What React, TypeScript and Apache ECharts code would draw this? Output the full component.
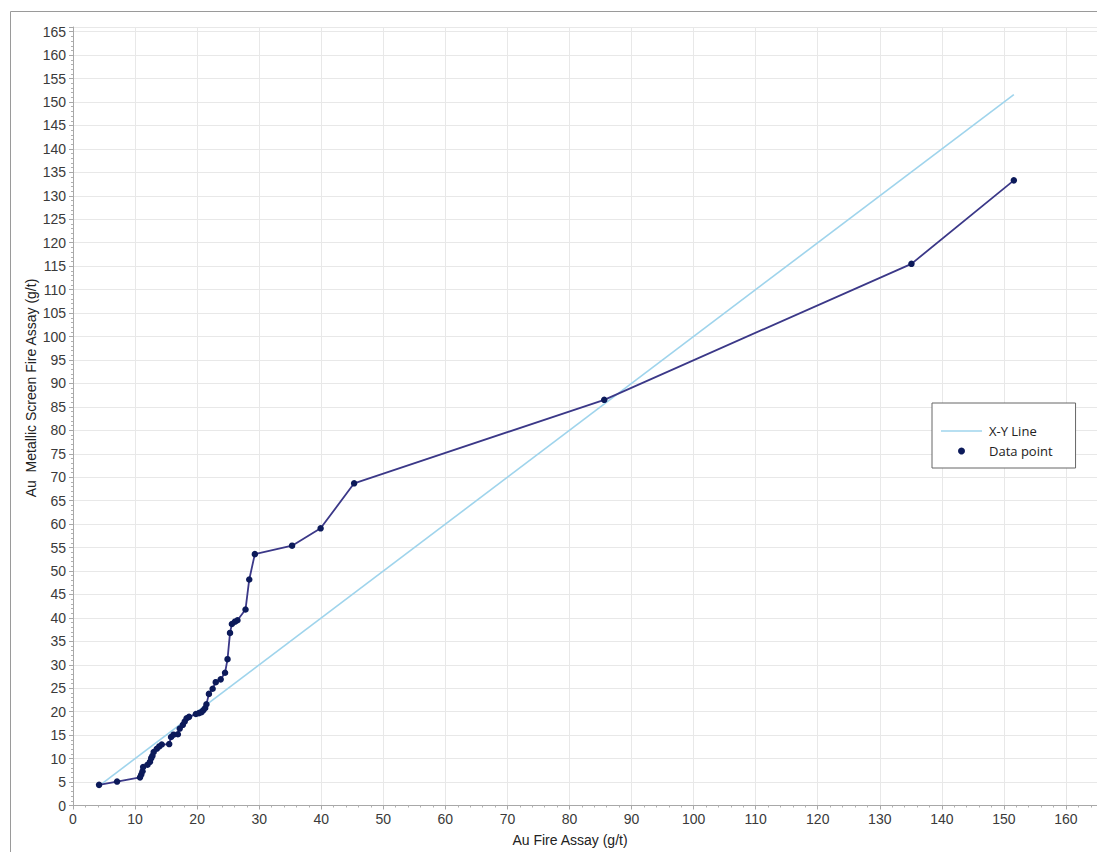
import React, { useEffect, useRef } from "react";
import * as echarts from "echarts";

// Au Fire Assay (g/t)
const fireAssay = [
  4.2, 7.1, 10.8, 11.0, 11.2, 11.3, 12.0, 12.4, 12.6, 12.8,
  13.0, 13.5, 13.9, 14.3, 15.5, 15.8, 16.2, 16.9, 17.2, 17.7,
  18.0, 18.3, 18.7, 19.8, 20.3, 20.7, 21.0, 21.3, 21.5, 21.9,
  22.5, 23.0, 23.8, 24.5, 24.9, 25.3, 25.6, 26.1, 26.5, 27.8,
  28.4, 29.3, 35.3, 39.9, 45.3, 85.6, 135.1, 151.6,
];
// Au Metallic Screen Fire Assay (g/t)
const metallicScreen = [
  4.4, 5.1, 6.0, 6.6, 7.3, 8.2, 8.7, 9.3, 10.1, 10.6,
  11.4, 12.1, 12.6, 13.0, 13.1, 14.6, 15.1, 15.2, 16.4, 17.2,
  17.9, 18.6, 18.9, 19.5, 19.7, 19.9, 20.3, 20.8, 21.6, 23.8,
  24.9, 26.3, 26.9, 28.3, 31.2, 36.8, 38.7, 39.2, 39.5, 41.8,
  48.2, 53.6, 55.4, 59.1, 68.7, 86.5, 115.5, 133.3,
];
// X-Y reference line end points
const xyLineEnds = [4.2, 151.6];

const seriesNames = ["X-Y Line", "Data point"];
const xAxisTitle = "Au Fire Assay (g/t)";
const yAxisTitle = "Au  Metallic Screen Fire Assay (g/t)";

export default function App() {
  const ref = useRef<HTMLDivElement>(null);

  useEffect(() => {
    document.body.style.margin = "0";
    document.body.style.overflow = "hidden";
    if (!ref.current) return;
    const chart = echarts.init(ref.current, null, { renderer: "svg" });
    const axisFont = "'Liberation Sans', Arial, sans-serif";
    chart.setOption({
      animation: false,
      backgroundColor: "#ffffff",
      grid: { left: 73, right: 0, top: 27, bottom: 46.5, containLabel: false },
      xAxis: {
        type: "value",
        min: 0,
        max: 165,
        interval: 10,
        axisLine: { show: true, onZero: false, lineStyle: { color: "#a8a8a8", width: 1 } },
        axisTick: { show: true, length: 4, lineStyle: { color: "#a8a8a8" } },
        minorTick: { show: true, splitNumber: 5, length: 2, lineStyle: { color: "#b0b0b0" } },
        splitLine: { show: true, lineStyle: { color: "#e8e8e8", width: 1 } },
        axisLabel: {
          showMaxLabel: false,
          margin: 6,
          color: "#3a3a3a",
          fontSize: 14,
          fontFamily: axisFont,
        },
      },
      yAxis: {
        type: "value",
        min: 0,
        max: 166,
        interval: 5,
        axisLine: { show: true, onZero: false, lineStyle: { color: "#a8a8a8", width: 1 } },
        axisTick: { show: true, length: 4, lineStyle: { color: "#a8a8a8" } },
        minorTick: { show: true, splitNumber: 5, length: 2, lineStyle: { color: "#b0b0b0" } },
        splitLine: { show: true, lineStyle: { color: "#e8e8e8", width: 1 } },
        axisLabel: {
          showMaxLabel: false,
          margin: 7,
          color: "#3a3a3a",
          fontSize: 14,
          fontFamily: axisFont,
        },
      },
      legend: {
        left: 932,
        top: 403,
        orient: "vertical",
        padding: [20, 23, 9, 9],
        itemGap: 4,
        itemWidth: 41,
        itemHeight: 7,
        borderColor: "#666666",
        borderWidth: 1,
        backgroundColor: "#ffffff",
        selectedMode: false,
        textStyle: {
          fontFamily: "'Open Sans', sans-serif",
          fontSize: 13,
          color: "#222222",
          lineHeight: 16,
          padding: [0, 0, 0, 2],
        },
        data: [
          { name: seriesNames[0], icon: "path://M0,0H41V1.3H0Z" },
          { name: seriesNames[1], icon: "circle" },
        ],
      },
      graphic: [
        {
          type: "rect",
          silent: true,
          z: -10,
          shape: { x: 10.5, y: 11.5, width: 1300, height: 1000 },
          style: { fill: "none", stroke: "#9a9a9a", lineWidth: 1 },
        },
        {
          type: "text",
          silent: true,
          x: 570,
          y: 840,
          style: {
            text: xAxisTitle,
            fontFamily: axisFont,
            fontSize: 14,
            fill: "#222222",
            align: "center",
            verticalAlign: "middle",
          },
        },
        {
          type: "text",
          silent: true,
          x: 31,
          y: 388,
          rotation: Math.PI / 2,
          style: {
            text: yAxisTitle,
            fontFamily: axisFont,
            fontSize: 14,
            fill: "#222222",
            align: "center",
            verticalAlign: "middle",
          },
        },
      ],
      series: [
        {
          name: seriesNames[0],
          type: "line",
          data: xyLineEnds.map((v) => [v, v]),
          symbol: "none",
          lineStyle: { color: "#9fd4ec", width: 1.6 },
          itemStyle: { color: "#9fd4ec" },
          z: 2,
        },
        {
          name: seriesNames[1],
          type: "line",
          data: fireAssay.map((x, i) => [x, metallicScreen[i]]),
          symbol: "circle",
          symbolSize: 6.5,
          showSymbol: true,
          lineStyle: { color: "#3b3888", width: 1.8 },
          itemStyle: { color: "#0c1a5a" },
          z: 3,
        },
      ],
    });
    return () => chart.dispose();
  }, []);

  return <div ref={ref} style={{ width: 1097, height: 852 }} />;
}
